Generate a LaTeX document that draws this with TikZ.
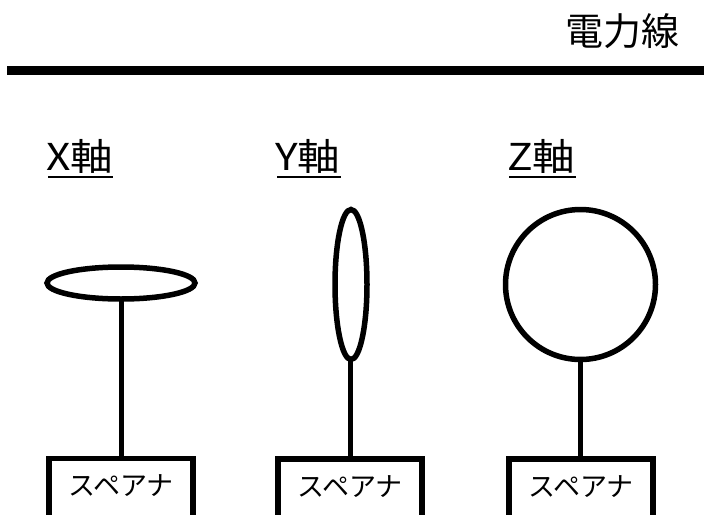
\documentclass[tikz,border=0pt]{standalone}
\usepackage{fontspec}
\newfontfamily\jp{Noto Sans CJK JP}
\begin{document}
\begin{tikzpicture}[x=1pt,y=-1pt,
  ringst/.style={draw=black,line width=5.5pt},
  stemst/.style={draw=black,line width=5pt},
  boxst/.style={draw=black,line width=5.5pt,minimum width=144pt,minimum height=70pt,anchor=north,inner sep=0pt},
  lbl/.style={font=\jp\fontsize{37}{37}\selectfont,inner sep=0pt,anchor=base west},
  ulst/.style={draw=black,line width=2pt},
  boxtxt/.style={font=\jp\fontsize{27}{27}\selectfont,inner sep=0pt}]
\useasboundingbox (0,0) rectangle (704,514);
\begin{scope}
\clip (0,0) rectangle (704,514);
\node[font=\jp\fontsize{38}{38}\selectfont,inner sep=0pt,anchor=base east] (title) at (680,45) {電力線};
\fill (7,66) rectangle (704,75);
\node[lbl] (lx) at (46,170.5) {\scalebox{1.15}[1]{X軸}};
\node[lbl] (ly) at (275,170.5) {\scalebox{1.15}[1]{Y軸}};
\node[lbl] (lz) at (507,170.5) {\scalebox{1.15}[1]{Z軸}};
\draw[ulst] ([xshift=2pt,yshift=-6.5pt]lx.base west) -- ([yshift=-6.5pt]lx.base east);
\draw[ulst] ([xshift=2pt,yshift=-6.5pt]ly.base west) -- ([yshift=-6.5pt]ly.base east);
\draw[ulst] ([xshift=2pt,yshift=-6.5pt]lz.base west) -- ([yshift=-6.5pt]lz.base east);
% shapes
\draw[ringst] (121,283) ellipse [x radius=74, y radius=16];
\coordinate (ex) at (121,299);
\draw[ringst] (351,284.5) ellipse [x radius=16, y radius=75];
\coordinate (ey) at (350.5,359.5);
\draw[ringst] (580.5,284.5) circle [radius=75];
\coordinate (ez) at (580,359.5);
% boxes
\node[boxst] (bx) at (121,455.5) {};
\node[boxst] (by) at (350,456) {};
\node[boxst] (bz) at (581,456) {};
\node[boxtxt] (tx) at (121,486) {スペアナ};
\node[boxtxt] (ty) at (350,487) {スペアナ};
\node[boxtxt] (tz) at (581,487) {スペアナ};
\draw[stemst] (ex) -- (ex |- bx.north);
\draw[stemst] (ey) -- (ey |- by.north);
\draw[stemst] (ez) -- (ez |- bz.north);
\end{scope}
\end{tikzpicture}
\end{document}
